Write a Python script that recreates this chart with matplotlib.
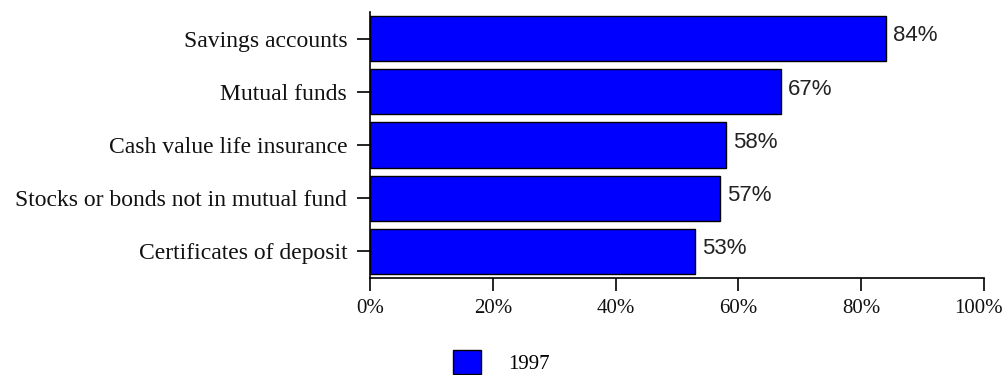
import numpy as np
import matplotlib.pyplot as plt
from matplotlib.patches import Patch

categories = ['Savings accounts', 'Mutual funds', 'Cash value life insurance',
              'Stocks or bonds not in mutual fund', 'Certificates of deposit']
values = [84, 67, 58, 57, 53]
series_name = '1997'
xticks = [0, 20, 40, 60, 80, 100]

plt.rcParams['font.family'] = 'Liberation Serif'

fig = plt.figure(figsize=(10.06, 3.75), dpi=100)
ax = fig.add_axes([370/1006, 1-278/375, 614/1006, 266/375])

y = np.arange(len(categories))
ax.barh(y, values, height=0.85, color='#0000ff', edgecolor='black', linewidth=1)
ax.set_ylim(len(categories) - 0.5, -0.5)
ax.set_xlim(0, 100)
ax.set_yticks(y)
ax.set_yticklabels(categories, fontsize=17, color='#111111')

tick_len, tick_pad = 9.4, 6
ax.set_xticks(xticks)
# last label drawn by hand a bit to the left so it stays inside the picture
ax.set_xticklabels([f'{t}%' for t in xticks[:-1]] + [''], fontsize=15, color='#111111')
ax.annotate(f'{xticks[-1]}%', xy=(xticks[-1], 0), xycoords=('data', 'axes fraction'),
            xytext=(-4, -(tick_len + tick_pad)), textcoords='offset points',
            ha='center', va='top', fontsize=15, color='#111111')

for sp in ['top', 'right']:
    ax.spines[sp].set_visible(False)
for sp in ['left', 'bottom']:
    ax.spines[sp].set_linewidth(1.2)
ax.tick_params(axis='y', length=9.4, width=1.2, pad=7)
ax.tick_params(axis='x', length=tick_len, width=1.2, pad=tick_pad)

for yi, v in zip(y, values):
    ax.annotate(f'{v}%', (v, yi), xytext=(5, 2), textcoords='offset points',
                va='center', ha='left', fontsize=16, family='Liberation Sans',
                color='#222222')

fig.legend(handles=[Patch(facecolor='#0000ff', edgecolor='black', label=series_name)],
           loc='center left', bbox_to_anchor=(453/1006, 1-362/375), frameon=False,
           fontsize=15, handlelength=1.35, handleheight=1.35, handletextpad=1.3,
           borderpad=0, borderaxespad=0)

fig.savefig('out.png', dpi=100)
